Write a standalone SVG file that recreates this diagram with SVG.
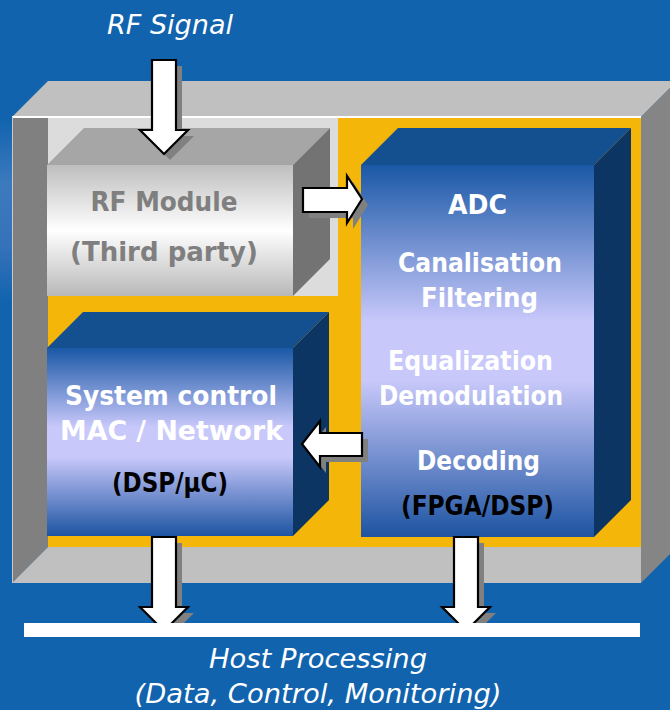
<svg xmlns="http://www.w3.org/2000/svg" width="670" height="710" viewBox="0 0 670 710">
<defs>
<linearGradient id="gBlue" x1="0" y1="0" x2="0" y2="1">
<stop offset="0" stop-color="#1A58A6"/>
<stop offset="0.42" stop-color="#C8C8FA"/>
<stop offset="0.58" stop-color="#C8C8FA"/>
<stop offset="1" stop-color="#1D54A2"/>
</linearGradient>
<linearGradient id="gGray" x1="0" y1="0" x2="0" y2="1">
<stop offset="0" stop-color="#BEBEBE"/>
<stop offset="0.5" stop-color="#FFFFFF"/>
<stop offset="1" stop-color="#B8B8B8"/>
</linearGradient>
<linearGradient id="gSide" x1="0" y1="0" x2="0" y2="1">
<stop offset="0" stop-color="#1163AE"/>
<stop offset="0.35" stop-color="#3C79BD"/>
<stop offset="0.7" stop-color="#3572B9"/>
<stop offset="1" stop-color="#1163AE"/>
</linearGradient>
</defs>
<style>
.bold{font-family:"DejaVu Sans","Liberation Sans",sans-serif;font-weight:bold;font-size:27px;text-anchor:middle}
.w{fill:#FFFFFF}
.k{fill:#000000}
.g{fill:#7F7F7F}
.ital{font-family:"DejaVu Sans","Liberation Sans",sans-serif;font-style:italic;font-size:27px;fill:#FFFFFF;text-anchor:middle}
.arrow{fill:#FFFFFF;stroke:#000000;stroke-width:2.2;stroke-linejoin:miter}
.shadow{fill:#808080}
.btop{fill:#144F90}
.bright{fill:#0D3563}
</style>
<rect x="0" y="0" width="670" height="710" fill="#1163AE"/>
<rect x="0" y="118" width="12" height="185" fill="url(#gSide)"/>

<g id="frame">
<polygon points="12,117 48,81 677,81 641,117" fill="#C0C0C0"/>
<polygon points="641,117 677,81 677,547 641,583" fill="#858585"/>
<rect x="48" y="117" width="593" height="430" fill="#F4B609"/>
<rect x="48" y="117" width="290" height="179" fill="#DCDCDC"/>
<polygon points="12,117 48,117 48,547 12,583" fill="#808080"/>
<polygon points="12,583 48,547 641,547 641,583" fill="#C0C0C0"/>
<line x1="12" y1="117" x2="641" y2="117" stroke="#FFFFFF" stroke-width="2"/>
<line x1="12.5" y1="117" x2="12.5" y2="583" stroke="#C8C8C8" stroke-width="1"/>
</g>

<g id="rf-module">
<polygon points="47,165 84,128 330,128 293,165" fill="#A6A6A6"/>
<polygon points="293,165 330,128 330,259 293,296" fill="#737373"/>
<rect x="47" y="165" width="246" height="131" fill="url(#gGray)"/>
<text class="bold g" x="164" y="211" textLength="147" lengthAdjust="spacingAndGlyphs">RF Module</text>
<text class="bold g" x="164" y="261" textLength="188" lengthAdjust="spacingAndGlyphs">(Third party)</text>
</g>

<g id="system-control">
<polygon class="btop" points="47,348 83,312 329,312 293,348"/>
<polygon class="bright" points="293,348 329,312 329,500 293,536"/>
<rect x="47" y="348" width="246" height="188" fill="url(#gBlue)"/>
<text class="bold w" x="171" y="405" textLength="212" lengthAdjust="spacingAndGlyphs">System control</text>
<text class="bold w" x="171.5" y="440" textLength="223" lengthAdjust="spacingAndGlyphs">MAC / Network</text>
<text class="bold k" x="170" y="492" font-size="25" textLength="116" lengthAdjust="spacingAndGlyphs">(DSP/µC)</text>
</g>

<g id="adc-block">
<polygon class="btop" points="361,165 398,128 631,128 594,165"/>
<polygon class="bright" points="594,165 631,128 631,500 594,537"/>
<rect x="361" y="165" width="233" height="372" fill="url(#gBlue)"/>
<text class="bold w" x="477.5" y="214" textLength="59" lengthAdjust="spacingAndGlyphs">ADC</text>
<text class="bold w" x="480" y="272" textLength="164" lengthAdjust="spacingAndGlyphs">Canalisation</text>
<text class="bold w" x="479.5" y="307" textLength="117" lengthAdjust="spacingAndGlyphs">Filtering</text>
<text class="bold w" x="470.5" y="370" textLength="165" lengthAdjust="spacingAndGlyphs">Equalization</text>
<text class="bold w" x="471" y="405" textLength="184" lengthAdjust="spacingAndGlyphs">Demodulation</text>
<text class="bold w" x="478.5" y="470" textLength="123" lengthAdjust="spacingAndGlyphs">Decoding</text>
<text class="bold k" x="477.5" y="515" font-size="25" textLength="153" lengthAdjust="spacingAndGlyphs">(FPGA/DSP)</text>
</g>

<g id="rf-signal">
<text class="ital" x="170" y="34" textLength="126" lengthAdjust="spacingAndGlyphs">RF Signal</text>
</g>

<g id="connectors">
<g transform="translate(6,6)">
<polygon class="shadow" points="152,60 176,60 176,130 188,130 164,154 140,130 152,130"/>
<polygon class="shadow" points="303,188 347,188 347,176 362,199 347,223 347,212 303,212"/>
<polygon class="shadow" points="362,433 320,433 320,421 302,444 320,467 320,456 362,456"/>
<polygon class="shadow" points="152,537 176,537 176,607 188,607 164,631 140,607 152,607"/>
<polygon class="shadow" points="454,537 478,537 478,607 490,607 466,631 442,607 454,607"/>
</g>
<polygon class="arrow" points="152,60 176,60 176,130 188,130 164,154 140,130 152,130"/>
<polygon class="arrow" points="303,188 347,188 347,176 362,199 347,223 347,212 303,212"/>
<polygon class="arrow" points="362,433 320,433 320,421 302,444 320,467 320,456 362,456"/>
<polygon class="arrow" points="152,537 176,537 176,607 188,607 164,631 140,607 152,607"/>
<polygon class="arrow" points="454,537 478,537 478,607 490,607 466,631 442,607 454,607"/>
</g>

<g id="host-processing">
<rect x="24" y="623" width="616" height="14" fill="#FFFFFF"/>
<text class="ital" x="318" y="668" textLength="218" lengthAdjust="spacingAndGlyphs">Host Processing</text>
<text class="ital" x="318" y="703" textLength="367" lengthAdjust="spacingAndGlyphs">(Data, Control, Monitoring)</text>
</g>
</svg>
